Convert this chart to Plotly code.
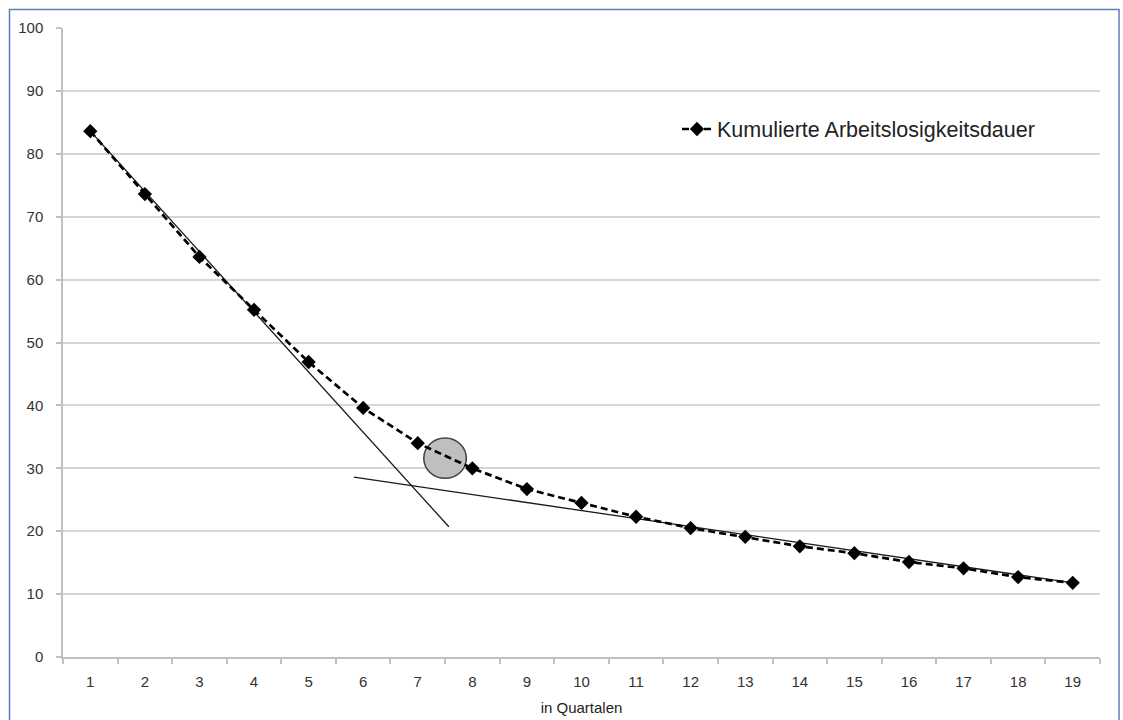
import plotly.graph_objects as go

quarters = list(range(1, 20))
kumulierte = [83.6, 73.6, 63.6, 55.2, 46.9, 39.6, 34.0, 30.0, 26.7, 24.5,
              22.3, 20.5, 19.1, 17.6, 16.5, 15.1, 14.1, 12.7, 11.8]
series_name = "Kumulierte Arbeitslosigkeitsdauer"

# tangent lines (start/end points in data units)
tangent1_x = [1.0, 7.57]
tangent1_y = [83.6, 20.7]
tangent2_x = [5.83, 19.0]
tangent2_y = [28.6, 11.8]

# highlighted kink (centre and radii in data units)
kink_x, kink_y = 7.5, 31.6
kink_rx, kink_ry = 0.39, 3.2

y_ticks = list(range(0, 101, 10))
x_boundaries = [q - 0.5 for q in quarters] + [19.5]

fig = go.Figure()
fig.add_trace(go.Scatter(x=tangent1_x, y=tangent1_y, mode="lines",
                         line=dict(color="#1a1a1a", width=1.3), showlegend=False,
                         hoverinfo="skip"))
fig.add_trace(go.Scatter(x=tangent2_x, y=tangent2_y, mode="lines",
                         line=dict(color="#1a1a1a", width=1.3), showlegend=False,
                         hoverinfo="skip"))
fig.add_trace(go.Scatter(x=quarters, y=kumulierte, mode="lines+markers",
                         name=series_name,
                         line=dict(color="black", width=2.7, dash="7px,4px"),
                         marker=dict(symbol="diamond", size=11, color="black")))

fig.add_shape(type="circle", xref="x", yref="y",
              x0=kink_x - kink_rx, x1=kink_x + kink_rx,
              y0=kink_y - kink_ry, y1=kink_y + kink_ry,
              fillcolor="#bfbfbf", line=dict(color="#404040", width=1.5),
              layer="between")

# outer frame
L, R, T, B = 63, 23, 28, 63
W, H = 1123, 720
pw, ph = W - L - R, H - T - B
def px(xp): return (xp - L) / pw
def py(yp): return (H - B - yp) / ph
fig.add_shape(type="rect", xref="paper", yref="paper",
              x0=px(9.5), x1=px(1119), y0=py(9.5), y1=py(725),
              line=dict(color="#5b7fb9", width=1.5), fillcolor="rgba(0,0,0,0)")

tick_font = dict(family="Liberation Sans, Arial, sans-serif", size=15, color="#333333")

fig.update_layout(
    width=W, height=H,
    margin=dict(l=L, r=R, t=T, b=B, autoexpand=False),
    paper_bgcolor="white", plot_bgcolor="white",
    font=dict(family="Liberation Sans, Arial, sans-serif", color="#333333", size=15),
    legend=dict(x=px(677), y=py(129), xanchor="left", yanchor="middle",
                font=dict(size=21.5, color="#222222"), bgcolor="rgba(0,0,0,0)",
                itemwidth=30),
    xaxis=dict(range=[0.5, 19.5], tickmode="array", tickvals=quarters,
               ticktext=[str(q) for q in quarters], ticks="", showgrid=False,
               zeroline=False, showline=True, linecolor="#bfbfbf", linewidth=1.5,
               ticklabelstandoff=10, tickfont=tick_font, automargin=False,
               minor=dict(tickmode="array", tickvals=x_boundaries, ticks="outside",
                          ticklen=5, tickcolor="#bfbfbf", tickwidth=1.5, showgrid=False),
               title=dict(text="in Quartalen", font=dict(size=15, color="#222222"),
                          standoff=14)),
    yaxis=dict(range=[0, 100], tickmode="array", tickvals=y_ticks, ticks="outside",
               ticklen=5, tickcolor="#bfbfbf", tickwidth=1.5,
               showgrid=True, gridcolor="#d6d6d6", gridwidth=1.5,
               zeroline=False, showline=True, linecolor="#bfbfbf", linewidth=1.5,
               ticklabelstandoff=10, tickfont=tick_font, automargin=False),
)

fig.write_html("out.html")
